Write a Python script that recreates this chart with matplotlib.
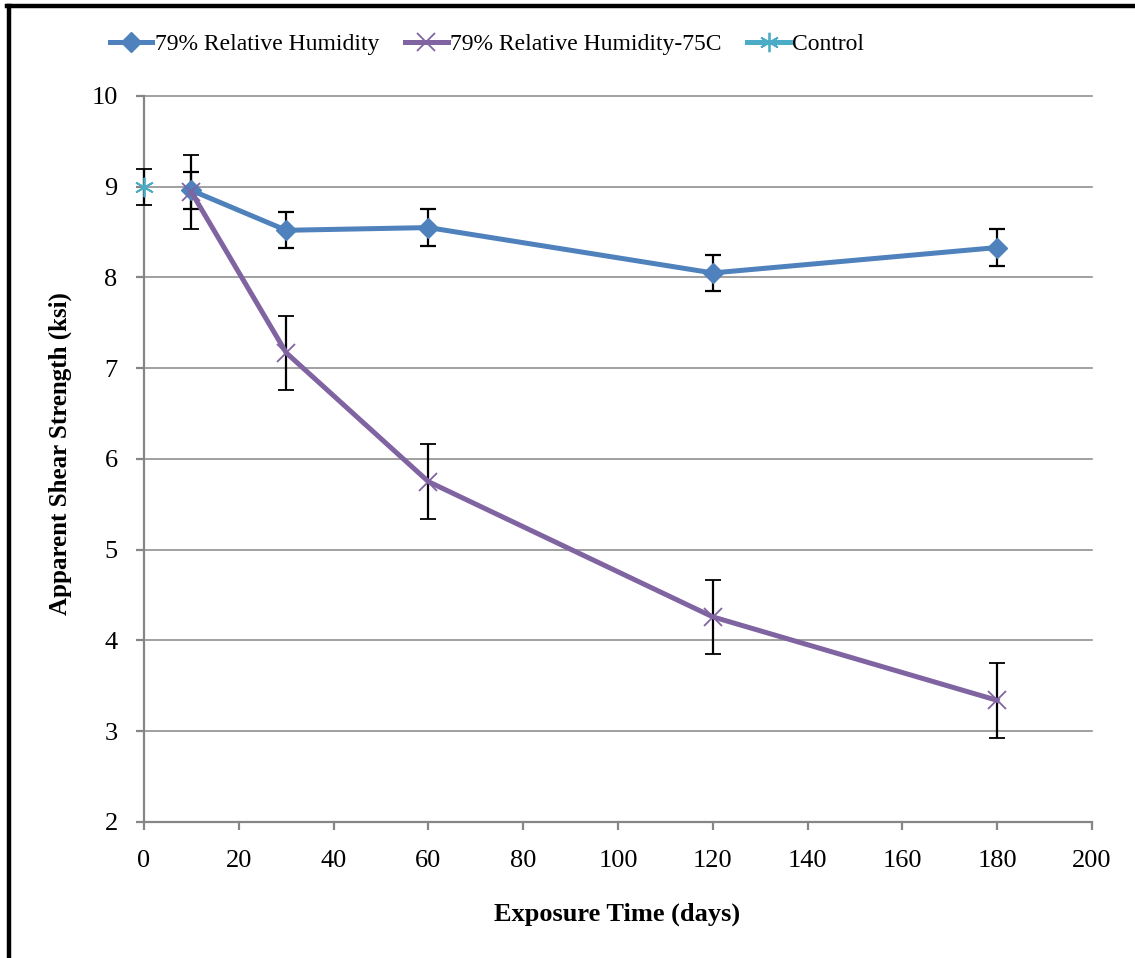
import numpy as np
import matplotlib.pyplot as plt
from matplotlib.lines import Line2D

plt.rcParams['font.family'] = ['Liberation Serif', 'DejaVu Serif']

# exposure times (days) and strengths (ksi)
dias_rh = [10, 30, 60, 120, 180]
rh = [8.96, 8.52, 8.55, 8.05, 8.33]
rh_err = [0.2, 0.2, 0.2, 0.2, 0.2]

dias_75 = [10, 30, 60, 120, 180]
rh75 = [8.94, 7.17, 5.75, 4.26, 3.34]
rh75_err = [0.41, 0.41, 0.41, 0.41, 0.41]

dias_ctrl = [0]
ctrl = [9.0]
ctrl_err = [0.2]

azul = '#4F81BD'
roxo = '#8064A2'
ciano = '#4BACC6'
cinza = '#868686'

fig = plt.figure(figsize=(11.35, 9.58), dpi=100)
ax = fig.add_axes([0.1269, 0.142, 0.9621 - 0.1269, 0.8998 - 0.142])

# linhas de grade horizontais
for v in range(2, 11):
    ax.axhline(v, color=cinza, lw=1.1, zorder=0)

ax.errorbar(dias_rh, rh, yerr=rh_err, color=azul, lw=3.6, marker='D', ms=10,
            ecolor='black', elinewidth=1.6, capsize=6, capthick=1.6,
            label='79% Relative Humidity', zorder=3)
ax.errorbar(dias_75, rh75, yerr=rh75_err, color=roxo, lw=3.6, marker='x', ms=13,
            mew=1.3, ecolor='black', elinewidth=1.6, capsize=6, capthick=1.6,
            label='79% Relative Humidity-75C', zorder=3)
ax.errorbar(dias_ctrl, ctrl, yerr=ctrl_err, color=ciano, lw=3.6, marker=(6, 2, 0), ms=14,
            mew=1.3, ecolor='black', elinewidth=1.6, capsize=6, capthick=1.6,
            label='Control', zorder=3)

ax.set_xlim(0, 200)
ax.set_ylim(2, 10)
ax.set_xticks(np.arange(0, 201, 20))
ax.set_yticks(np.arange(2, 11, 1))
ax.tick_params(axis='both', colors=cinza, labelcolor='black', labelsize=19,
               length=6, width=1.6, direction='out')
ax.tick_params(axis='y', pad=13)
ax.tick_params(axis='x', pad=14)
for s in ['top', 'right']:
    ax.spines[s].set_visible(False)
for s in ['left', 'bottom']:
    ax.spines[s].set_color(cinza)
    ax.spines[s].set_linewidth(1.6)
for art in ax.get_children():
    try:
        art.set_clip_on(False)
    except Exception:
        pass

fig.text(617 / 1135, 1 - 914 / 958, 'Exposure Time (days)', fontsize=19,
         fontweight='bold', ha='center', va='center')
fig.text(60 / 1135, 1 - 454 / 958, 'Apparent Shear Strength (ksi)', rotation=90,
         fontsize=18, fontweight='bold', ha='center', va='center')

# legenda no topo
handles = [
    Line2D([], [], color=azul, lw=3.6, marker='D', ms=10),
    Line2D([], [], color=roxo, lw=3.6, marker='x', ms=13, mew=1.3),
    Line2D([], [], color=ciano, lw=3.6, marker=(6, 2, 0), ms=14, mew=1.3),
]
labels = ['79% Relative Humidity', '79% Relative Humidity-75C', 'Control']
fig.legend(handles, labels, loc='center', bbox_to_anchor=(487 / 1135, 1 - 44 / 958),
           ncol=3, frameon=False, fontsize=17, handlelength=1.8,
           handletextpad=0.1, columnspacing=1.1)

# moldura preta (esquerda e topo)
fig.add_artist(Line2D([9 / 1135, 9 / 1135], [0, 1 - 6 / 958], color='black', lw=3.2,
                      transform=fig.transFigure))
fig.add_artist(Line2D([7 / 1135, 1], [1 - 6 / 958, 1 - 6 / 958], color='black', lw=3.2,
                      transform=fig.transFigure))

fig.savefig('out.png', dpi=100)
